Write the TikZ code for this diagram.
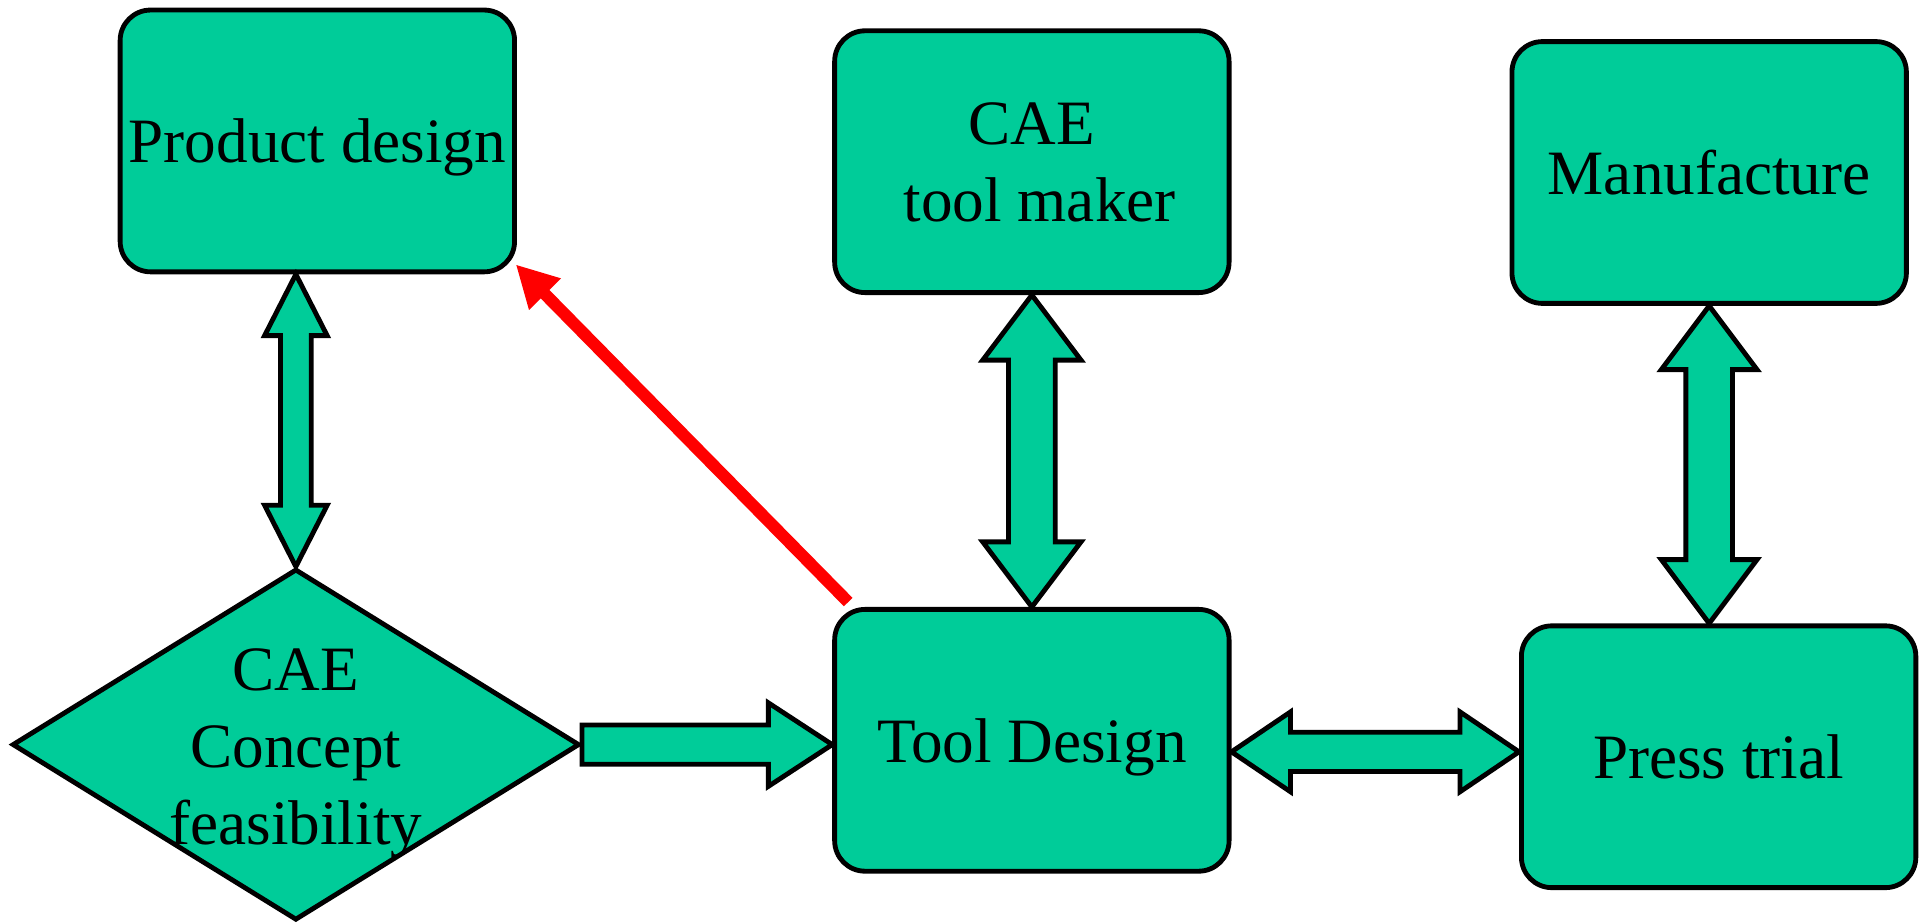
\documentclass[tikz,border=0pt]{standalone}
\usepackage{fontspec}
\setmainfont{Liberation Serif}
\usepackage{tikz}
\usetikzlibrary{arrows.meta, shapes.geometric, positioning, calc}
\definecolor{boxgreen}{RGB}{0,204,153}

\begin{document}
\begin{tikzpicture}[x=0.025cm, y=-0.025cm,
        box/.style={rectangle, rounded corners=0.62cm, draw, line width=2.8pt, fill=boxgreen, minimum width=8.03cm, minimum height=5.33cm, inner sep=2pt, text depth=0pt, align=center, font=\fontsize{36.6pt}{44.5pt}\selectfont},
        dia/.style={diamond, draw, line width=2.8pt, fill=boxgreen, minimum width=11.55cm, minimum height=7.15cm, inner sep=0pt},
        txt/.style={align=center, inner sep=0pt, font=\fontsize{36.6pt}{44.5pt}\selectfont},
        blockarr/.style={draw, line width=2.8pt, fill=boxgreen, line join=miter},
        feedback/.style={-{Triangle[length=0.85cm, width=0.85cm]}, red, line width=7pt},
    ]
        \useasboundingbox (0,0) rectangle (1568,752);

        % Stages
        \node[box] (prod)  at (258.5, 114.8) {Product design};
        \node[box] (maker) at (840.5, 131.7) {CAE\\\hspace*{0.25em}tool maker};
        \node[box] (manu)  at (1392.2,140.5) {Manufacture};
        \node[dia, label={[txt, yshift=-0.18cm]center:CAE\\Concept\\feasibility}] (conc) at (241, 606.5) {};
        \node[box] (tool)  at (840.5, 603)   {Tool Design};
        \node[box] (press) at (1399.9,616.4) {Press trial};

        % Vertical double arrows
        \foreach \t/\b/\s/\h/\l in {{conc.north |- prod.south}/conc.north/12.5/25.5/50,
                                    maker.south/tool.north/19/40/53,
                                    manu.south/{manu.south |- press.north}/19/39/52}
        {
            \path (\t) coordinate (up) (\b) coordinate (dn);
            \draw[blockarr] (up) -- ($(up)+(\h,\l)$) -- ($(up)+(\s,\l)$) -- ($(dn)+(\s,-\l)$) -- ($(dn)+(\h,-\l)$)
                -- (dn) -- ($(dn)+(-\h,-\l)$) -- ($(dn)+(-\s,-\l)$) -- ($(up)+(-\s,\l)$) -- ($(up)+(-\h,\l)$) -- cycle;
        }

        % Concept -> Tool Design
        \path (conc.east -| tool.west) coordinate (tip);
        \draw[blockarr] ($(conc.east)+(0,-16)$) -- ($(tip)+(-52,-16)$) -- ($(tip)+(-52,-34)$) -- (tip)
            -- ($(tip)+(-52,34)$) -- ($(tip)+(-52,16)$) -- ($(conc.east)+(0,16)$) -- cycle;

        % Tool Design <-> Press trial
        \path ($(tool.east |- press.west)+(0,-4)$) coordinate (lt) (lt -| press.west) coordinate (rt);
        \draw[blockarr] (lt) -- ($(lt)+(48,-32.5)$) -- ($(lt)+(48,-16)$) -- ($(rt)+(-48,-16)$) -- ($(rt)+(-48,-32.5)$)
            -- (rt) -- ($(rt)+(-48,32.5)$) -- ($(rt)+(-48,16)$) -- ($(lt)+(48,16)$) -- ($(lt)+(48,32.5)$) -- cycle;

        % Feedback
        \draw[feedback] ($(tool.north west)+(13,-4)$) -- ($(prod.south east)+(-1,-8)$);
    \end{tikzpicture}
\end{document}
